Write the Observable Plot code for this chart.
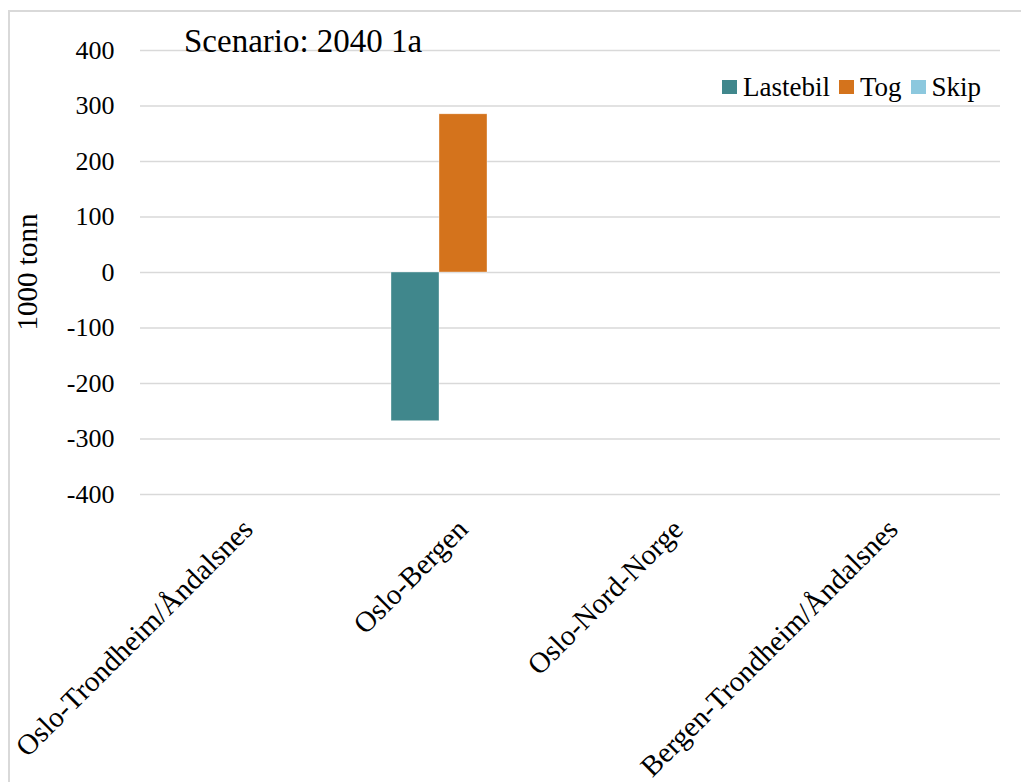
<!DOCTYPE html>
<html>
<head>
<meta charset="utf-8">
<script src="https://cdn.jsdelivr.net/npm/d3@7"></script>
<script src="https://cdn.jsdelivr.net/npm/@observablehq/plot@0.6"></script>
<style>
  html, body { margin: 0; padding: 0; background: #fff; overflow: hidden; }
  #wrap { position: relative; width: 1021px; height: 782px; overflow: hidden; font-family: "Liberation Serif", serif; }
  #border { position: absolute; left: 8px; top: 10px; width: 1030px; height: 800px; border: 2px solid #d9d9d9; box-sizing: border-box; }
  #chart { position: absolute; left: 0; top: 0; }
  #chart svg text { font-family: "Liberation Serif", serif; }
  #chart [aria-label*="fx-axis"] text { font-size: 29px; }
  #title { position: absolute; left: 184px; top: 22px; font-size: 33px; line-height: 38px; color: #000; white-space: nowrap; }
  #ylabel { position: absolute; left: 27px; top: 272px; font-size: 29px; transform: translate(-50%, -50%) rotate(-90deg); white-space: nowrap; }
  #legend { position: absolute; left: 722px; top: 72px; font-size: 27px; line-height: 30px; display: flex; align-items: center; white-space: nowrap; }
  #legend .sw { display: inline-block; width: 15px; height: 14px; margin-right: 6px; }
  #legend .it { display: flex; align-items: center; margin-right: 9px; }
</style>
</head>
<body>
<div id="wrap">
  <div id="border"></div>
  <div id="chart"></div>
  <div id="title">Scenario: 2040 1a</div>
  <div id="ylabel">1000 tonn</div>
  <div id="legend"></div>
</div>
<script>
const categories = ["Oslo-Trondheim/Åndalsnes", "Oslo-Bergen", "Oslo-Nord-Norge", "Bergen-Trondheim/Åndalsnes"];
const series = ["Lastebil", "Tog", "Skip"];
const lastebil = [0, -268, 0, 0];
const tog = [0, 285, 0, 0];
const skip = [0, 0, 0, 0];
const seriesColors = ["#40878C", "#D4731C", "#8CC8DE"];
const yTicks = [-400, -300, -200, -100, 0, 100, 200, 300, 400];

const seriesValues = [lastebil, tog, skip];
const data = categories.flatMap((c, i) => series.map((s, j) => ({category: c, series: s, value: seriesValues[j][i]})));

const chart = Plot.plot({
  width: 1021,
  height: 782,
  marginLeft: 138,
  marginRight: 20,
  marginTop: 50,
  marginBottom: 288,
  style: {fontFamily: "Liberation Serif, serif", fontSize: "26px", color: "#000", background: "transparent", overflow: "visible"},
  fx: {domain: categories, padding: 0, label: null, tickRotate: -45, tickSize: 0, tickPadding: 30},
  x: {domain: series, axis: null, paddingInner: 0, paddingOuter: 0.735},
  y: {domain: [-400, 400], ticks: yTicks, label: null, tickSize: 0, tickPadding: 26, tickFormat: d => d < 0 ? "-" + Math.abs(d) : String(d)},
  color: {domain: series, range: seriesColors},
  marks: [
    Plot.ruleY(yTicks, {stroke: "#d9d9d9", strokeWidth: 1.5, strokeOpacity: 1}),
    Plot.barY(data, {fx: "category", x: "series", y: "value", fill: "series", stroke: "#ffffff", strokeWidth: 0.6, strokeOpacity: 0.6})
  ]
});
document.getElementById("chart").appendChild(chart);

const legend = document.getElementById("legend");
series.forEach((s, j) => {
  const it = document.createElement("span");
  it.className = "it";
  const sw = document.createElement("span");
  sw.className = "sw";
  sw.style.background = seriesColors[j];
  it.appendChild(sw);
  it.appendChild(document.createTextNode(s));
  legend.appendChild(it);
});
</script>
</body>
</html>
